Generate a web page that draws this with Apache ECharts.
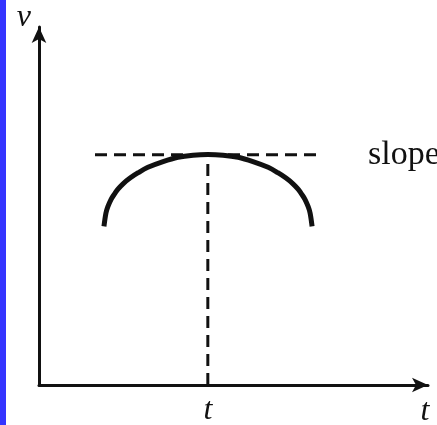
<!DOCTYPE html>
<html>
<head>
<meta charset="utf-8">
<script src="https://cdn.jsdelivr.net/npm/echarts@6/dist/echarts.min.js"></script>
<style>html,body{margin:0;padding:0;background:#fff;}#c{width:437px;height:425px;}</style>
</head>
<body>
<div id="c"></div>
<script>
// Curve (velocity vs time)
const curveT = [1.67, 1.72, 1.77, 1.85, 1.93, 2.03, 2.16, 2.34, 2.55, 2.80, 3.19, 3.57, 3.96, 4.34,
                4.73, 5.12, 5.50, 5.89, 6.14, 6.35, 6.53, 6.66, 6.76, 6.84, 6.92, 6.97, 7.02];
const curveV = [4.43, 4.80, 4.98, 5.18, 5.32, 5.47, 5.62, 5.78, 5.93, 6.08, 6.24, 6.36, 6.42, 6.44,
                6.42, 6.36, 6.24, 6.08, 5.93, 5.78, 5.62, 5.47, 5.32, 5.18, 4.98, 4.80, 4.43];
// Tangent (horizontal dashed) and the vertical dashed line at t
const peakT = 4.34;
const peakV = 6.43;
const tangentT = [1.44, 7.22];
const tangentV = [peakV, peakV];
const verticalT = [peakT, peakT];
const verticalV = [0, peakV];
// Texts
const tickLabels = ['t'];
const xName = 't';
const yName = 'v';
const slopeText = 'slope';

const serif = '"Liberation Serif", "DejaVu Serif", serif';
const ink = '#111';

const chart = echarts.init(document.getElementById('c'), null, {renderer: 'canvas'});
chart.setOption({
  backgroundColor: '#ffffff',
  animation: false,
  grid: {left: 39, right: 9, top: 27, bottom: 40, containLabel: false, outerBoundsMode: 'none'},
  xAxis: {
    type: 'value', min: 0, max: 10,
    name: xName, nameLocation: 'end', nameGap: -3,
    nameTextStyle: {fontFamily: serif, fontStyle: 'italic', fontSize: 32, color: ink,
      align: 'center', verticalAlign: 'top', padding: [11, 0, 0, 0]},
    splitLine: {show: false},
    axisTick: {show: false},
    axisLine: {show: true, lineStyle: {color: ink, width: 3}, symbol: ['none', 'arrow'], symbolSize: [11, 16]},
    axisLabel: {
      customValues: [peakT],
      formatter: function () { return tickLabels[0]; },
      fontFamily: serif, fontStyle: 'italic', fontSize: 32, color: ink, margin: 10
    }
  },
  yAxis: {
    type: 'value', min: 0, max: 10,
    name: yName, nameLocation: 'end', nameGap: -7,
    nameTextStyle: {fontFamily: serif, fontStyle: 'italic', fontSize: 32, color: ink,
      align: 'right', verticalAlign: 'bottom', padding: [0, 8, 0, 0]},
    splitLine: {show: false},
    axisTick: {show: false},
    axisLabel: {show: false},
    axisLine: {show: true, lineStyle: {color: ink, width: 3}, symbol: ['none', 'arrow'], symbolSize: [11, 16]}
  },
  series: [
    {
      type: 'line', data: tangentT.map((t, i) => [t, tangentV[i]]),
      symbol: 'none', lineStyle: {color: ink, width: 3, type: [12, 7]}, z: 2
    },
    {
      type: 'line', data: verticalT.map((t, i) => [t, verticalV[i]]),
      symbol: 'none', lineStyle: {color: ink, width: 3, type: [12, 7]}, z: 2
    },
    {
      type: 'line', data: curveT.map((t, i) => [t, curveV[i]]),
      symbol: 'none', smooth: 0.35, lineStyle: {color: ink, width: 5, cap: 'butt', join: 'round'}, z: 3
    }
  ],
  graphic: [
    {type: 'rect', left: 0, top: 0, shape: {width: 6, height: 425}, style: {fill: '#3434ff'}, silent: true},
    {type: 'text', x: 368, y: 138, style: {text: slopeText, font: '34px ' + serif, fill: ink}}
  ]
});
</script>
</body>
</html>
